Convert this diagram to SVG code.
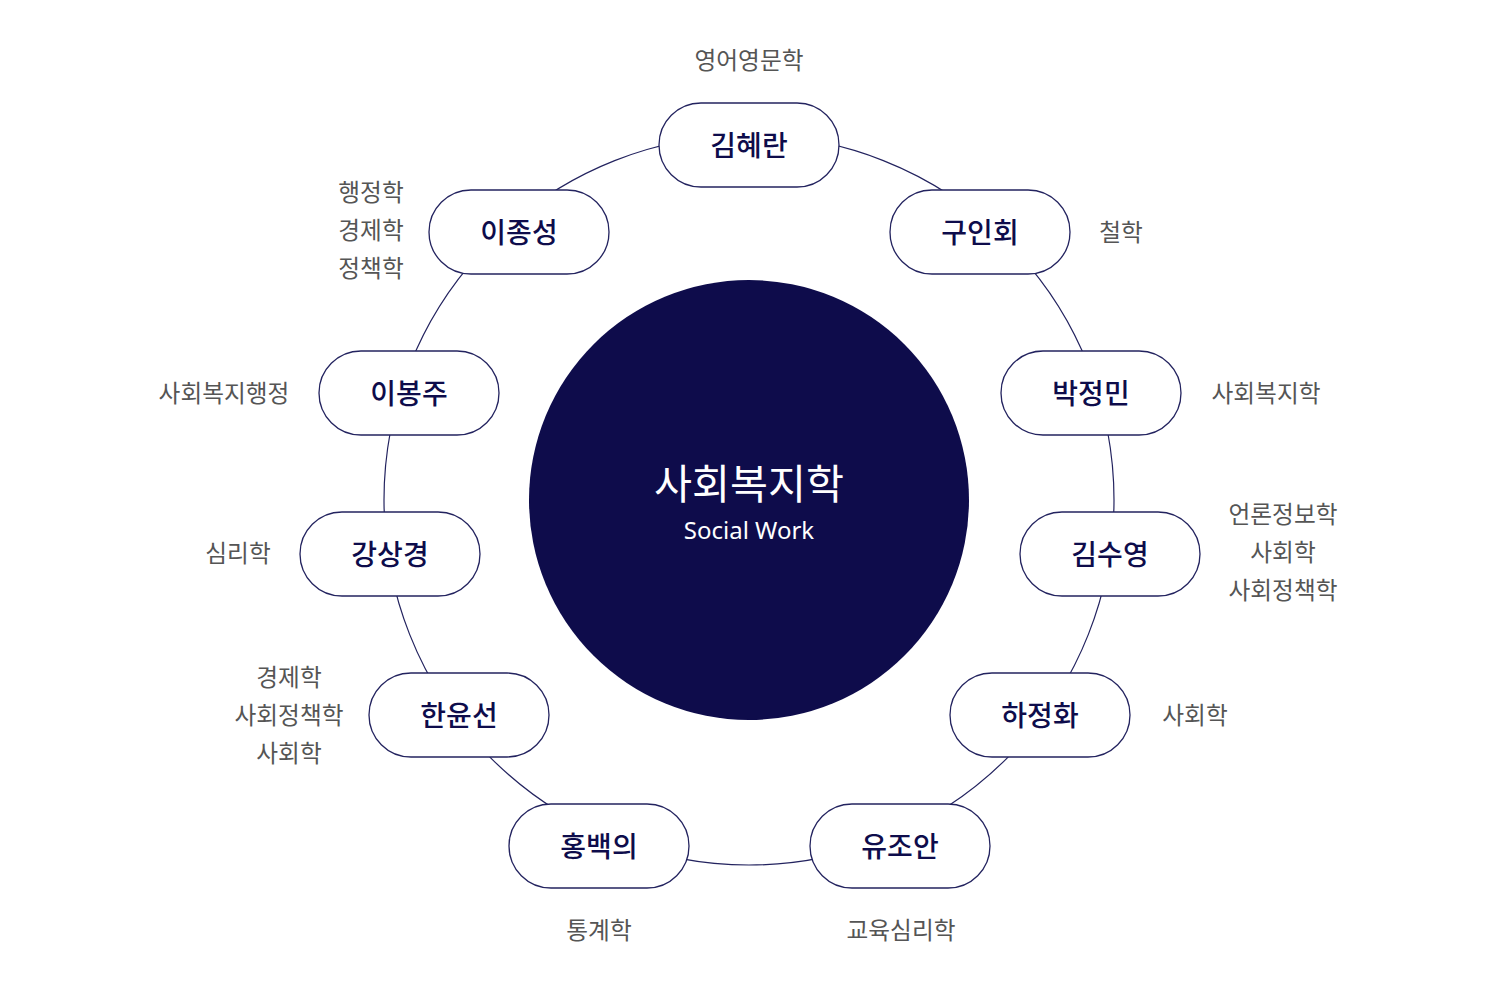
<svg xmlns="http://www.w3.org/2000/svg" width="1500" height="1000" viewBox="0 0 1500 1000">
<style>
.pill{fill:#ffffff;stroke:#23235f;stroke-width:1.3}
.name{font-family:"Noto Sans CJK KR","Noto Sans",sans-serif;font-size:28px;font-weight:500;fill:#0e0c4b;text-anchor:middle;dominant-baseline:central}
.lbl{font-family:"Noto Sans CJK KR","Noto Sans",sans-serif;font-size:23.7px;fill:#555555;text-anchor:middle;dominant-baseline:central}
.ring{fill:none;stroke:#23235f;stroke-width:1.2}
</style>
<rect width="1500" height="1000" fill="#ffffff"/>
<g id="connectors">
<circle class="ring" cx="749" cy="500" r="365"/>
</g>
<g id="center">
<circle cx="749" cy="500" r="220" fill="#0e0c4b"/>
<text x="749" y="481" font-family="'Noto Sans CJK KR','Noto Sans',sans-serif" font-size="41.3" fill="#ffffff" text-anchor="middle" dominant-baseline="central">사회복지학</text>
<text x="749" y="529" font-family="'Noto Sans','Noto Sans CJK KR',sans-serif" font-size="24" fill="#ffffff" text-anchor="middle" dominant-baseline="central">Social Work</text>
</g>
<g id="n-kimhyeran"><rect class="pill" x="659" y="103" width="180" height="84" rx="42"/><text class="name" x="749" y="144">김혜란</text><text class="lbl" x="749" y="59">영어영문학</text></g>
<g id="n-guinhoe"><rect class="pill" x="890" y="190" width="180" height="84" rx="42"/><text class="name" x="980" y="231">구인회</text><text class="lbl" x="1121" y="231">철학</text></g>
<g id="n-parkjeongmin"><rect class="pill" x="1001" y="351" width="180" height="84" rx="42"/><text class="name" x="1091" y="392">박정민</text><text class="lbl" x="1266" y="392">사회복지학</text></g>
<g id="n-kimsuyeong"><rect class="pill" x="1020" y="512" width="180" height="84" rx="42"/><text class="name" x="1110" y="553">김수영</text><text class="lbl" x="1283" y="513">언론정보학</text><text class="lbl" x="1283" y="551">사회학</text><text class="lbl" x="1283" y="589">사회정책학</text></g>
<g id="n-hajeonghwa"><rect class="pill" x="950" y="673" width="180" height="84" rx="42"/><text class="name" x="1040" y="714">하정화</text><text class="lbl" x="1195" y="714">사회학</text></g>
<g id="n-yujoan"><rect class="pill" x="810" y="804" width="180" height="84" rx="42"/><text class="name" x="900" y="845">유조안</text><text class="lbl" x="901" y="929">교육심리학</text></g>
<g id="n-hongbaekui"><rect class="pill" x="509" y="804" width="180" height="84" rx="42"/><text class="name" x="599" y="845">홍백의</text><text class="lbl" x="599" y="929">통계학</text></g>
<g id="n-hanyunseon"><rect class="pill" x="369" y="673" width="180" height="84" rx="42"/><text class="name" x="459" y="714">한윤선</text><text class="lbl" x="289" y="676">경제학</text><text class="lbl" x="289" y="714">사회정책학</text><text class="lbl" x="289" y="752">사회학</text></g>
<g id="n-gangsanggyeong"><rect class="pill" x="300" y="512" width="180" height="84" rx="42"/><text class="name" x="390" y="553">강상경</text><text class="lbl" x="238" y="552">심리학</text></g>
<g id="n-leebongju"><rect class="pill" x="319" y="351" width="180" height="84" rx="42"/><text class="name" x="409" y="392">이봉주</text><text class="lbl" x="224" y="392">사회복지행정</text></g>
<g id="n-leejongseong"><rect class="pill" x="429" y="190" width="180" height="84" rx="42"/><text class="name" x="519" y="231">이종성</text><text class="lbl" x="371" y="191">행정학</text><text class="lbl" x="371" y="229">경제학</text><text class="lbl" x="371" y="267">정책학</text></g>
</svg>
